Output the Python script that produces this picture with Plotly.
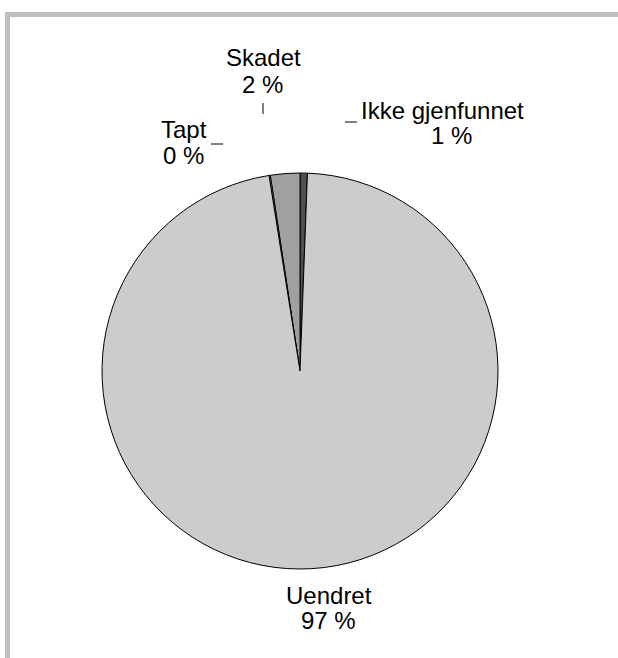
import plotly.graph_objects as go

# ---- data ----
labels = ["Ikke gjenfunnet", "Skadet", "Tapt", "Uendret"]
values = [0.6, 2.4, 0.1, 96.9]
colors = ["#505050", "#a0a0a0", "#cccccc", "#cccccc"]

W, H = 618, 658

def px(x):
    return x / W

def py(y):
    return 1 - y / H

# pie geometry (pixels)
cx, cy, r = 300, 371, 198

fig = go.Figure(go.Pie(
    labels=labels,
    values=values,
    sort=False,
    direction="counterclockwise",
    rotation=0,
    marker=dict(colors=colors, line=dict(color="#000000", width=1)),
    textinfo="none",
    hoverinfo="label+percent",
    showlegend=False,
    domain=dict(x=[px(cx - r), px(cx + r)], y=[py(cy + r), py(cy - r)]),
))

# label positions (pixel centres of each text line): name line, percent line
label_pos = {
    "Skadet": ((263, 58), (262.5, 84.5)),
    "Tapt": ((184, 129), (183, 155)),
    "Ikke gjenfunnet": ((442, 111), (451.5, 135)),
    "Uendret": ((328.7, 595), (329, 620)),
}

font = dict(family="Liberation Sans, Arial, sans-serif", size=24, color="#000000")
total = sum(values)
annotations = []
for lab, val in zip(labels, values):
    (x1, y1), (x2, y2) = label_pos[lab]
    annotations.append(dict(x=px(x1), y=py(y1), xref="paper", yref="paper",
                            text=lab, showarrow=False, font=font,
                            xanchor="center", yanchor="middle"))
    annotations.append(dict(x=px(x2), y=py(y2), xref="paper", yref="paper",
                            text=f"{round(val / total * 100)} %", showarrow=False, font=font,
                            xanchor="center", yanchor="middle"))

shapes = [
    # frame bands
    dict(type="rect", xref="paper", yref="paper", x0=px(5), x1=px(W), y0=py(17), y1=py(12),
         fillcolor="#bfbfc3", line=dict(width=0), layer="below"),
    dict(type="rect", xref="paper", yref="paper", x0=px(5), x1=px(10), y0=py(H), y1=py(12),
         fillcolor="#bfbfc3", line=dict(width=0), layer="below"),
    # leader lines
    dict(type="line", xref="paper", yref="paper", x0=px(263), x1=px(263), y0=py(103), y1=py(114),
         line=dict(color="#000000", width=1)),
    dict(type="line", xref="paper", yref="paper", x0=px(211), x1=px(223), y0=py(144), y1=py(144),
         line=dict(color="#000000", width=1)),
    dict(type="line", xref="paper", yref="paper", x0=px(345), x1=px(357), y0=py(122), y1=py(122),
         line=dict(color="#000000", width=1)),
]

fig.update_layout(
    width=W, height=H,
    margin=dict(l=0, r=0, t=0, b=0),
    paper_bgcolor="#ffffff",
    plot_bgcolor="#ffffff",
    annotations=annotations,
    shapes=shapes,
)

fig.write_html("out.html", config={"displayModeBar": False},
               post_script="document.body.style.margin='0';document.body.style.overflow='hidden';")
